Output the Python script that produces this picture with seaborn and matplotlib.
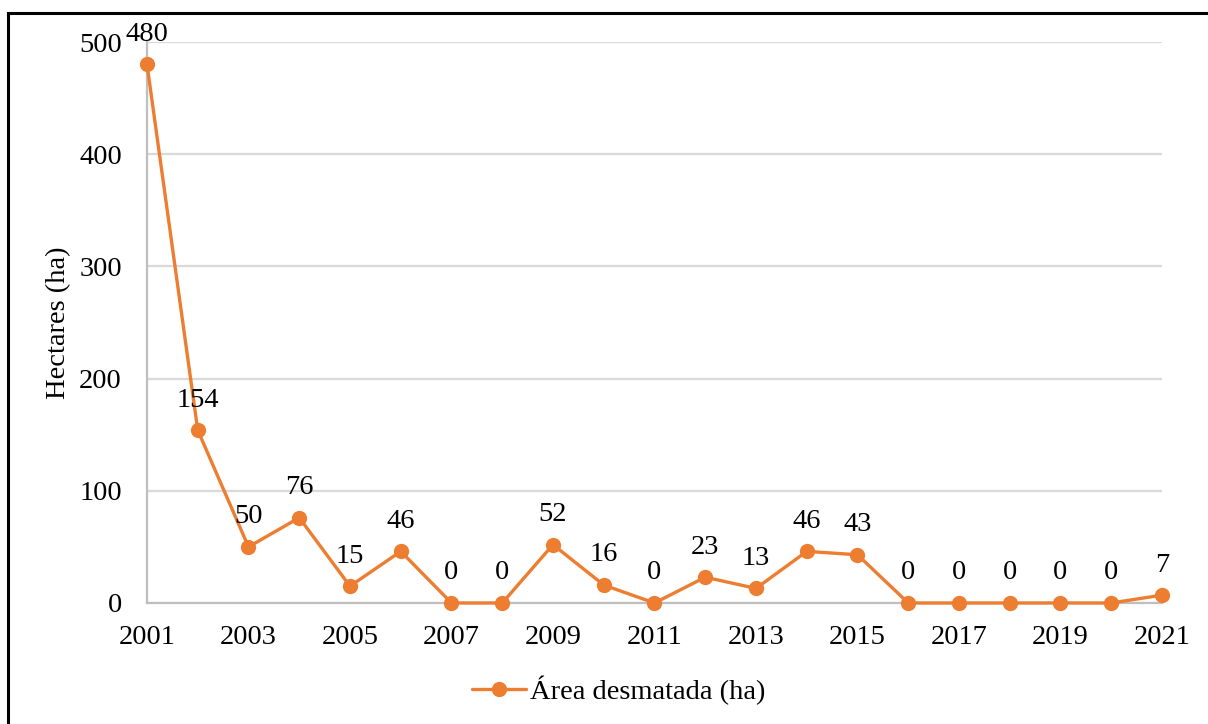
import matplotlib
matplotlib.use("Agg")
import matplotlib.pyplot as plt
from matplotlib.patches import Rectangle
import seaborn as sns
import pandas as pd

years = list(range(2001, 2022))
area_ha = [480, 154, 50, 76, 15, 46, 0, 0, 52, 16, 0, 23, 13, 46, 43, 0, 0, 0, 0, 0, 7]
x_ticks = list(range(2001, 2022, 2))
y_ticks = [0, 100, 200, 300, 400, 500]
series_name = "Área desmatada (ha)"
y_label = "Hectares (ha)"

sns.set_style("white")
plt.rcParams["font.family"] = ["Liberation Serif", "DejaVu Serif"]
plt.rcParams["text.color"] = "black"
plt.rcParams["axes.labelcolor"] = "black"
plt.rcParams["xtick.color"] = "black"
plt.rcParams["ytick.color"] = "black"

ORANGE = "#ED7D31"
FS = 20.5

df = pd.DataFrame({"Ano": years, "Área": area_ha, "Série": series_name})

fig = plt.figure(figsize=(12.08, 7.24), dpi=100)
ax = fig.add_axes([147 / 1208, 1 - 603 / 724, (1162 - 147) / 1208, (603 - 42) / 724])

sns.lineplot(data=df, x="Ano", y="Área", hue="Série", palette=[ORANGE],
             marker="o", markersize=11, markeredgewidth=0, linewidth=2.4,
             ax=ax, clip_on=False, zorder=3)

ax.set_xlim(2001, 2021)
ax.set_ylim(0, 500)
ax.set_xticks(x_ticks)
ax.set_yticks(y_ticks)
ax.tick_params(axis="both", length=0, labelsize=FS, labelcolor="black")
ax.tick_params(axis="x", pad=16)
ax.tick_params(axis="y", pad=18)
ax.grid(axis="y", color="#d9d9d9", linewidth=1.6)
ax.grid(axis="x", visible=False)
for side in ("top", "right"):
    ax.spines[side].set_visible(False)
for side in ("left", "bottom"):
    ax.spines[side].set_color("#bfbfbf")
    ax.spines[side].set_linewidth(1.6)
ax.set_xlabel("")
ax.set_ylabel(y_label, fontsize=FS, labelpad=6, color="black")

for x, v in zip(years, area_ha):
    ax.annotate(str(v), (x, v), xytext=(0, 17), textcoords="offset points",
                ha="center", va="baseline", fontsize=FS, color="black",
                annotation_clip=False)

handles, labels = ax.get_legend_handles_labels()
ax.get_legend().remove()
fig.legend(handles, labels, loc="center", bbox_to_anchor=(0.512, 0.047),
           frameon=False, fontsize=FS, handlelength=1.9, handletextpad=0.15,
           labelcolor="black")

fig.patches.append(Rectangle((8 / 1208, -0.05), 1.1, 1 - 12.5 / 724 + 0.05,
                             transform=fig.transFigure, fill=False,
                             edgecolor="black", linewidth=2.2))

fig.savefig("out.png", dpi=100)
